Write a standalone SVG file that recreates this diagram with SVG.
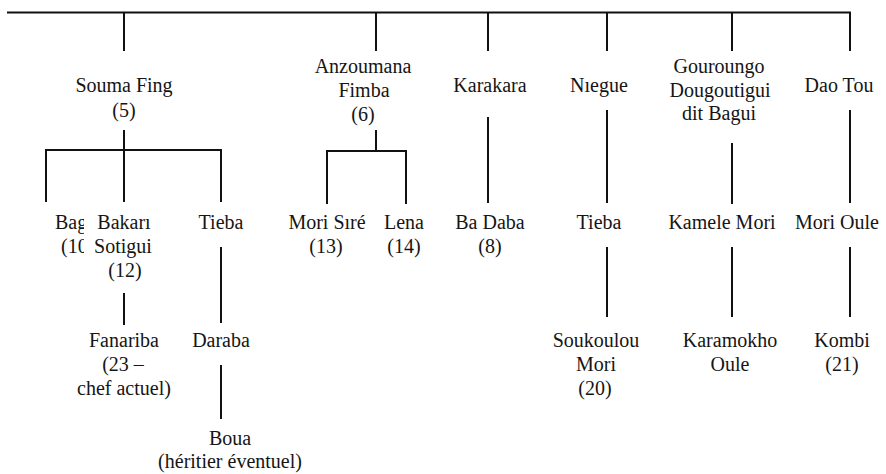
<svg xmlns="http://www.w3.org/2000/svg" width="886" height="474" viewBox="0 0 886 474">
<style>
text{font-size:20px;fill:#151515;text-anchor:middle}
text.s{text-anchor:start}
#connectors line,#connectors path{stroke:#111;stroke-width:2;fill:none}
</style>
<defs><clipPath id="clipBag"><rect x="0" y="200" width="84" height="90"/></clipPath></defs>
<rect width="886" height="474" fill="#fff"/>
<g id="connectors">
<path d="M7 12.5H850V51"/>
<line x1="124" y1="12.5" x2="124" y2="51"/>
<line x1="376" y1="12.5" x2="376" y2="51"/>
<line x1="488" y1="12.5" x2="488" y2="51"/>
<line x1="607" y1="12.5" x2="607" y2="51"/>
<line x1="732" y1="12.5" x2="732" y2="51"/>
<line x1="124" y1="130" x2="124" y2="202"/>
<path d="M46 202V150H221V202"/>
<line x1="376" y1="130" x2="376" y2="151"/>
<path d="M327 204V151H406V204"/>
<line x1="488" y1="117" x2="488" y2="203"/>
<line x1="607" y1="110" x2="607" y2="203"/>
<line x1="732" y1="143" x2="732" y2="204"/>
<line x1="850" y1="110" x2="850" y2="203"/>
<line x1="124" y1="293" x2="124" y2="325"/>
<line x1="221" y1="247" x2="221" y2="323"/>
<line x1="221" y1="365" x2="221" y2="419"/>
<line x1="607" y1="247" x2="607" y2="317"/>
<line x1="732" y1="247" x2="732" y2="317"/>
<line x1="850" y1="247" x2="850" y2="317"/>
</g>
<g id="nodes" font-family="Liberation Serif, Tinos, Times New Roman, DejaVu Serif, serif">
<g id="souma-fing"><text x="124" y="92">Souma Fing</text><text x="124" y="117">(5)</text></g>
<g id="anzoumana-fimba"><text x="363" y="73">Anzoumana</text><text x="364" y="97">Fimba</text><text x="363" y="121">(6)</text></g>
<g id="karakara"><text x="490" y="92">Karakara</text></g>
<g id="niegue"><text x="599" y="92">Nıegue</text></g>
<g id="gouroungo"><text x="719" y="73">Gouroungo</text><text x="720" y="97">Dougoutigui</text><text x="719" y="120">dit Bagui</text></g>
<g id="dao-tou"><text x="839" y="92">Dao Tou</text></g>
<g id="bag" clip-path="url(#clipBag)"><text class="s" x="55" y="229">Bag</text><text class="s" x="61" y="253">(10</text></g>
<g id="bakari-sotigui"><text x="124" y="229">Bakarı</text><text x="123" y="253">Sotigui</text><text x="125" y="277">(12)</text></g>
<g id="tieba-1"><text x="221" y="229">Tieba</text></g>
<g id="mori-sire"><text x="327" y="229">Mori Sıré</text><text x="326" y="253">(13)</text></g>
<g id="lena"><text x="404" y="229">Lena</text><text x="404" y="253">(14)</text></g>
<g id="ba-daba"><text x="490" y="229">Ba Daba</text><text x="490" y="253">(8)</text></g>
<g id="tieba-2"><text x="599" y="229">Tieba</text></g>
<g id="kamele-mori"><text x="722" y="229">Kamele Mori</text></g>
<g id="mori-oule"><text x="837" y="229">Mori Oule</text></g>
<g id="fanariba"><text x="124" y="347">Fanariba</text><text x="123" y="371">(23 –</text><text x="124" y="395">chef actuel)</text></g>
<g id="daraba"><text x="221" y="347">Daraba</text></g>
<g id="boua"><text x="230" y="445">Boua</text><text x="230" y="468">(héritier éventuel)</text></g>
<g id="soukoulou-mori"><text x="596" y="347">Soukoulou</text><text x="596" y="371">Mori</text><text x="595" y="395">(20)</text></g>
<g id="karamokho-oule"><text x="730" y="347">Karamokho</text><text x="730" y="371">Oule</text></g>
<g id="kombi"><text x="842" y="347">Kombi</text><text x="842" y="371">(21)</text></g>
</g>
</svg>
